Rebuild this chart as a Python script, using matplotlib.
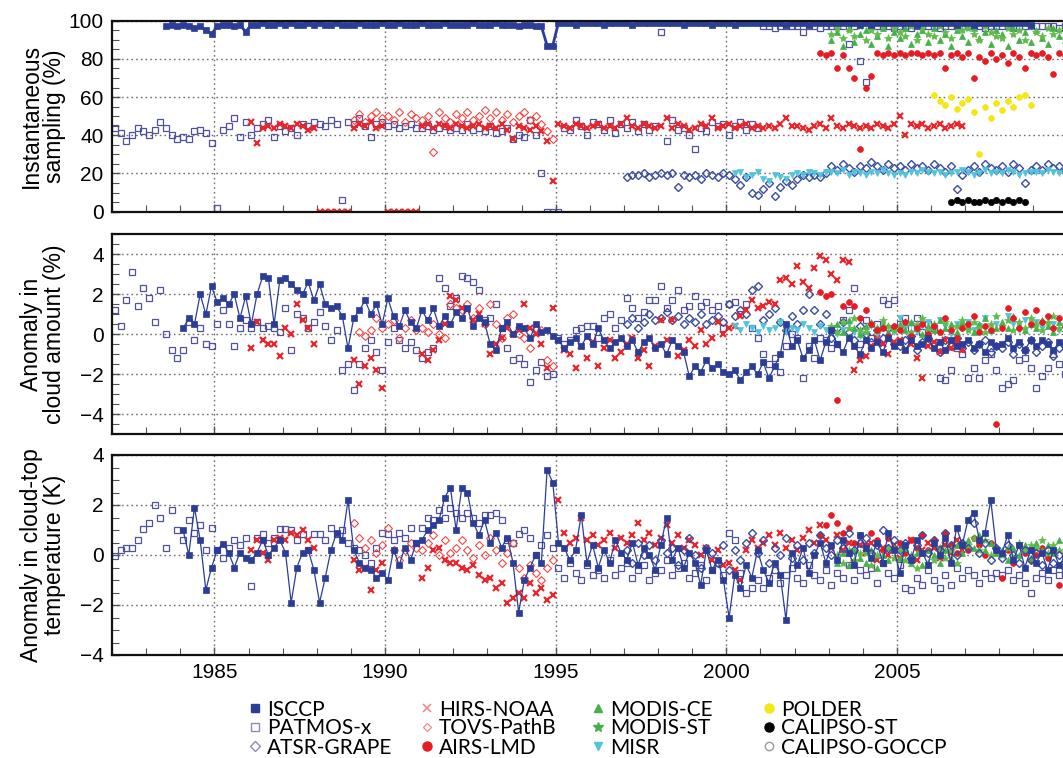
import numpy as np
import matplotlib
matplotlib.use("Agg")
import matplotlib.pyplot as plt
from matplotlib.lines import Line2D
from matplotlib.ticker import MultipleLocator, FixedLocator

plt.rcParams['font.family'] = ['Liberation Sans', 'DejaVu Sans']
nan = np.nan
STEP = 1.0 / 6.0   # bimonthly samples

# ---------------- Panel 1: instantaneous sampling (%) ----------------
isccp_samp_start = 1983.5
isccp_samp = [97, 98, 97,
    98, 97, 96, 97, 95, 93,   97, 98, 98, 97, 98, 94,   98, 98, 99, 98, 98, 99,
    98, 99, 98, 98, 99, 98,   99, 98, 98, 99, 98, 98,   98, 99, 98, 98, 98, 99,
    98, 98, 99, 98, 98, 98,   99, 98, 98, 98, 99, 98,   98, 98, 98, 99, 98, 98,
    98, 99, 98, 98, 98, 97,   98, 98, 97, 97, 87, 87,   99, 99, 99, 98, 99, 99,
    99, 99, 98, 99, 99, 99,   99, 98, 99, 99, 99, 99,   99, 99, 99, 99, 98, 99,
    99, 99, 99, 98, 99, 99,   99, 98, 99, 99, 99, 99,   99, 99, 99, 99, 98, 99,
    99, 99, 98, 99, 99, 99,   99, 99, 99, 99, 99, 98,   99, 98, 99, 99, 99, 99,
    99, 99, 99, 98, 99, 99,   99, 99, 99, 99, 98, 99,   99, 98, 99, 99, 99, 99,
    99, 99, 99, 99, 99, 98]
patmos_samp_start = 1982.0
patmos_samp = [44, 41, 37, 40, 44, 42,   40, 43, 47, 44, 40, 38,   39, 38, 42, 43, 41, 36,
    2, 43, 45, 49, 39, 47,   40, 44, 46, 48, 39, 45,   42, 44, 40, 46, 45, 47,
    46, 45, 48, 46, 6, 47,   46, 49, 45, 39, 46, 47,   45, 46, 44, 45, 46, 44,
    44, 45, 43, 44, 45, 43,   44, 43, 46, 43, 44, 42,   45, 41, 42, 44, 38, 40,
    39, 48, 40, 20, 0, 0,   0, 44, 43, 48, 45, 40,   47, 46, 43, 48, 41, 46,
    44, 47, 42, 46, 43, 45,   94, 37, 48, 43, 44, 40,   33, 44, 42, 47, 45, 46,
    40, 45, 47, 43, 46, 44,   97, 97, 96, 97, 97, 97,   97, 94, 97, 97, 96, 97,
    97, 97, 97, 88, 97, 79,   68, 97, 97, 97, 97, 96,   97, 97, 96, 97, 97, 97,
    97, 96, 97, 97, 97, 97,   97, 97, 97, 96, 97, 97,   97, 97, 96, 97, 97, 97,
    97, 97, 97, 97, 96, 97]
atsr_samp_start = 1997.0
atsr_samp = [18, 19, 19, 20, 18, 19,   20, 19, 20, 13, 19, 18,   19, 17, 20, 19, 18, 20,
    19, 17, 14, 18, 10, 9,   12, 15, 8, 13, 16, 14,   17, 19, 18, 19, 18, 20,
    24, 22, 25, 23, 21, 24,   23, 26, 24, 22, 25, 23,   24, 22, 25, 23, 24, 22,
    25, 23, 21, 24, 12, 19,   22, 24, 21, 25, 23, 22,   24, 21, 25, 23, 15, 22,
    24, 22, 25, 23, 24, 22]
hirs_samp_start = 1986.0
hirs_samp = [47, 36, 44, 45, 44, 46,   45, 44, 46, 45, 43, 44,   0, 0, 0, 0, 0, 0,
    44, 46, 45, 47, 44, 45,   0, 0, 0, 0, 0, 0,   45, 46, 44, 46, 45, 44,
    46, 45, 44, 45, 46, 44,   45, 44, 46, 43, 38, 45,   44, 43, 45, 42, 37, 16,
    46, 45, 44, 46, 45, 44,   45, 46, 44, 45, 44, 46,   49, 45, 44, 46, 45, 44,
    45, 49, 44, 46, 45, 43,   44, 46, 45, 49, 44, 45,   46, 44, 45, 46, 44, 45,
    44, 45, 44, 46, 49, 45,   45, 44, 43, 45, 46, 44,   49, 45, 44, 46, 45, 44,
    45, 44, 46, 45, 44, 46,   50, 40, 46, 45, 46, 44,   45, 46, 44, 45, 46, 45]
tovs_samp_start = 1989.0
tovs_samp = [48, 51, 47, 50, 52, 49,   50, 48, 52, 47, 51, 49,   48, 50, 31, 52, 49, 47,
    51, 49, 52, 48, 50, 53,   49, 52, 48, 51, 47, 50,   52, 48, 50, 46, 42, 38]
airs_samp_start = 2002.0
airs_samp = [nan, nan, nan, nan, 83, 82,   83, 75, 82, 75, 70, 33,   65, 71, 83, 82, 83, 82,
    83, 82, 83, 83, 82, 83,   82, 83, 75, 82, 83, 81,   83, 70, 81, 79, 83, 80,
    82, 78, 83, 81, 75, 83,   82, 83, 81, 72, 83, 82]
modis_ce_samp_start = 2003.0
modis_ce_samp = [90, 94, 87, 96, 89, 93,   95, 88, 92, 96, 87, 94,   91, 96, 88, 93, 95, 89,
    96, 90, 93, 87, 95, 92,   89, 96, 91, 94, 88, 95,   93, 87, 96, 90, 94, 89,
    95, 91, 88, 96, 92, 90]
modis_st_samp_start = 2003.0
modis_st_samp = [93, 96, 91, 95, 92, 97,   90, 95, 93, 97, 91, 96,   94, 92, 97, 90, 96, 93,
    92, 97, 94, 91, 96, 95,   96, 93, 90, 97, 94, 92,   91, 96, 93, 95, 90, 97,
    94, 92, 96, 93, 95, 91]
misr_samp_start = 2000.0
misr_samp = [nan, 20, 21, 18, 19, 21,   17, 16, 19, 18, 17, 19,   20, 19, 21, 20, 19, 21,
    21, 20, 22, 19, 21, 20,   19, 21, 20, 22, 20, 19,   20, 19, 21, 20, 22, 21,
    20, 21, 19, 20, 21, 22,   21, 19, 20, 22, 20, 21,   20, 22, 21, 19, 20, 21,
    21, 20, 22, 21, 20, 22]
polder_samp_start = 2006.0
polder_samp = [61, 58, 56, 60, 54, 57,   59, 52, 30, 55, 49, 57,   53, 58, 55, 60, 61, 56]
calipso_st_samp_start = 2006.0
calipso_st_samp = [nan, nan, nan, 5, 6, 5,   6, 5, 5, 6, 5, 6,   5, 6, 5, 6, 5, nan]

# ---------------- Panel 2: anomaly in cloud amount (%) ----------------
isccp_ca_start = 1984.0
isccp_ca = [0.3, 0.8, 0.5, 2.0, 1.0, 2.4,   1.6, 1.8, 1.5, 2.0, 0.8, 1.9,   0.5, 2.0, 2.9, 2.8, 0.5, 2.7,
    2.8, 2.5, 2.2, 2.0, 2.6, 1.7,   2.5, 1.5, 1.3, 1.4, 0.9, -0.7,   0.8, 1.2, 1.7, 1.0, 1.5, 0.5,
    1.8, 0.9, 0.4, 1.2, 0.6, 0.3,   1.2, 0.7, 1.3, 0.4, 0.9, 0.5,   1.1, 0.8, 1.3, 0.4, 0.8, 0.6,
    -0.5, -0.8, 0.3, 0.6, 0.0, 0.4,   0.3, -0.2, 0.5, 0.1, 0.2, -0.1,   -0.3, -0.7, -0.4, -0.2, -0.6, -0.1,
    -0.5, 0.3, -0.3, -0.7, -0.4, -0.2,   -0.6, -0.3, -0.9, -0.4, -0.2, -0.7,   -0.5, -1.0, -0.3, -0.6, -0.9, -2.1,
    -1.6, -1.9, -1.3, -1.7, -1.5, -1.9,   -2.0, -1.8, -2.3, -1.9, -1.6, -2.0,   -1.4, -2.2, -1.6, -1.0, 0.5, -0.6,
    -0.3, -1.2, -0.8, -0.3, -1.3, -0.4,   0.2, -0.5, -0.9, -0.2, -0.6, -1.0,   -0.3, -0.7, -0.4, -0.9, -0.2, -0.6,
    -0.4, -0.8, -0.3, -0.6, -0.5, -0.2,   -0.7, -0.4, -0.8, -0.3, -0.6, -0.5,   -0.3, -0.7, -0.5, -0.9, -0.4, -0.6,
    -0.5, -0.2, -0.7, -0.4, -0.8, -0.3,   -0.6, -0.3, -0.5, -0.8, -0.4, -0.6]
patmos_ca_start = 1982.0
patmos_ca = [1.2, 0.4, 1.7, 3.1, 1.4, 2.3,   1.8, 0.6, 2.2, 0.0, -0.8, -1.2,   -0.8, 0.6, -0.3, 0.3, -0.5, -0.6,
    0.5, 1.2, 0.5, -0.6, 0.3, 0.7,   0.3, 0.6, 0.3, 0.4, 0.3, 0.1,   1.3, -0.8, 1.0, 0.8, 0.3, 0.6,
    1.1, 0.4, -0.3, 0.2, -1.8, -1.5,   -2.8, -1.5, -0.7, -0.3, -0.9, -1.8,   -0.4, 0.3, -0.3, -0.7, -0.4, -0.8,
    -1.2, -0.9, -0.7, 2.8, 2.3, 1.4,   1.8, 2.9, 2.8, 2.6, 2.2, 0.7,   0.8, 1.5, 0.3, -0.7, -1.3, -1.2,
    -1.5, -2.4, -1.8, -1.4, -2.1, -2.0,   -0.2, -0.5, -0.3, 0.2, 0.3, 0.4,   0.4, -0.2, 0.8, 1.0, 0.3, 0.7,
    1.8, 1.3, 0.8, 1.1, 1.7, 1.7,   2.4, 1.3, 1.7, 2.2, 1.2, 1.4,   1.9, 1.4, 1.6, 1.2, 1.4, 0.3,
    1.5, 1.6, 1.0, 1.5, 0.3, -0.2,   -1.0, -1.5, -1.2, -1.9, -0.6, 0.0,   -0.2, -2.2, -0.6, -1.2, -0.2, -0.3,
    -0.7, -0.5, 0.7, 1.2, 2.3, -0.5,   0.7, -0.2, 0.5, 1.7, 1.5, 1.7,   0.5, 0.8, 0.3, 0.8, 0.1, 0.5,
    0.3, -2.2, -2.3, -1.8, -0.7, -1.0,   -2.2, -1.7, -2.2, -1.3, -1.0, -1.8,   -2.7, -2.5, -2.3, -1.3, -1.2, -1.7,
    -2.7, -2.1, -1.7, -1.0, -1.5, -2.0]
atsr_ca_start = 1997.0
atsr_ca = [0.5, 0.8, 0.3, 0.6, 1.0, 0.7,   0.8, 1.1, 0.7, 0.9, 0.5, 0.8,   0.6, 1.0, 0.5, 0.7, 0.9, 0.6,
    1.5, 0.9, 1.2, 1.0, 2.2, 2.4,   0.7, 1.0, 1.3, 0.6, 0.2, 0.9,   0.5, 1.2, 2.0, 1.2, 0.5, 1.0,
    -0.2, 0.3, 0.6, 0.1, -0.3, 0.4,   0.0, -0.4, 0.2, -0.2, 0.3, -0.5,   -0.6, -0.3, -0.1, -0.8, -0.4, -0.2,
    -0.5, -0.9, -0.3, -0.6, -0.2, -0.7,   -0.4, -0.8, -0.5, -0.3, -0.9, -0.6,   -0.7, -0.4, -1.0, -0.5, -0.8, -0.3,
    -0.9, -0.6, -0.4, -1.1, -0.7, -0.5]
hirs_ca_start = 1986.0
hirs_ca = [-0.7, 0.6, -0.3, -0.5, -0.5, -1.1,   0.3, 0.0, 1.5, 0.7, 0.3, -0.5,   nan, nan, nan, nan, nan, nan,
    -1.3, -2.5, -1.6, -1.2, -1.8, -2.7,   nan, nan, nan, nan, nan, nan,   -1.0, -1.3, -0.8, -0.3, 0.5, 1.9,
    1.7, 1.3, 1.2, 0.7, 1.0, 0.5,   -1.0, -0.5, -0.2, 0.3, 0.0, 0.2,   1.5, 0.3, 0.0, -0.5, -1.7, 1.3,
    -0.3, -0.8, -1.0, -1.7, -0.6, -1.2,   -0.4, -1.6, -0.7, -0.3, -1.2, -0.9,   -0.5, -0.2, -1.2, -0.8, -1.6, -0.6,
    0.7, -0.3, 0.7, -1.1, -0.8, -0.3,   -0.6, 0.2, -0.5, -0.2, 0.6, 0.0,   0.3, 0.4, 0.9, 1.2, 1.7, 1.3,
    1.4, 1.6, 1.5, 2.7, 2.8, 2.5,   3.4, 2.6, 2.3, 3.3, 3.9, 3.7,   3.0, 2.7, 3.7, 3.6, -1.8, -1.3,
    -1.1, -0.6, -0.2, -0.5, -1.0, -0.4,   -0.3, -0.8, -0.5, -1.2, -2.2, -0.6,   -0.4, -0.9, -0.3, -0.7, -0.5, -0.8]
tovs_ca_start = 1989.0
tovs_ca = [nan, 0.1, -0.1, 0.2, 0.8, 0.3,   0.5, 0.7, -0.2, 0.3, 0.7, 0.2,   0.3, 0.1, 0.5, 0.0, -0.2, 1.5,
    1.3, 1.2, 1.5, 0.8, 1.3, 0.5,   1.5, 0.5, -0.2, 0.8, 1.0, 0.0,   -0.2, -0.7, 0.3, 0.2, -1.3, -1.6]
airs_ca_start = 2002.0
airs_ca = [nan, nan, nan, nan, 2.1, 1.9,   2.0, -3.3, 1.4, 1.6, 1.4, 0.8,   1.2, 0.5, 0.2, 0.3, -0.1, 0.4,
    0.2, 0.6, -0.1, 0.3, 0.5, 0.0,   0.4, 0.1, 0.8, 0.2, -0.2, 0.3,   0.5, 0.9, 0.1, 0.4, 0.2, -4.5,
    0.3, 1.3, 0.8, 0.3, 1.1, 0.5,   1.2, 0.6, 0.9, 0.3, 0.8, 0.4]
modis_ce_ca_start = 2003.0
modis_ce_ca = [0.2, 0.5, 0.1, 0.7, 0.3, 0.0,   0.4, 0.6, 0.2, 0.5, 0.1, 0.3,   0.5, 0.2, 0.6, 0.3, 0.0, 0.4,
    0.2, 0.7, 0.3, 0.5, 0.1, 0.6,   0.4, 0.1, 0.5, 0.8, 0.2, 0.3,   0.6, 0.3, 0.9, 0.4, 0.2, 0.5,
    0.3, 0.7, 0.4, 0.1, 0.6, 0.3]
modis_st_ca_start = 2003.0
modis_st_ca = [0.4, 0.1, 0.6, 0.3, 0.8, 0.2,   0.1, 0.5, 0.3, 0.7, 0.4, 0.2,   0.3, 0.6, 0.1, 0.5, 0.8, 0.2,
    0.5, 0.1, 0.6, 0.2, 0.4, 0.7,   0.2, 0.6, 0.3, 0.1, 0.5, 0.9,   0.4, 0.7, 0.2, 0.6, 0.3, 0.8,
    0.5, 0.2, 0.6, 0.9, 0.3, 0.4]
misr_ca_start = 2000.0
misr_ca = [nan, 0.4, 0.2, 0.5, 0.3, 0.1,   0.4, 0.2, 0.3, 0.6, 0.1, 0.3,   0.2, 0.5, 0.3, 0.1, 0.4, 0.2,
    0.3, 0.0, 0.2, 0.5, 0.1, -0.1,   0.2, 0.4, 0.0, 0.3, -0.2, 0.1,   0.8, 0.3, 0.5, 0.1, 0.4, 0.6,
    0.2, 0.7, 0.4, 0.0, 0.5, 0.3,   0.6, 0.2, 0.4, 0.8, 0.1, 0.5,   0.3, 0.9, 0.5, 0.2, 0.7, 0.4,
    0.6, 0.3, 0.8, 0.5, 0.2, 0.4]

# ---------------- Panel 3: anomaly in cloud-top temperature (K) ----------------
isccp_ct_start = 1984.0
isccp_ct = [1.0, 0.0, 1.9, 0.6, -1.4, -0.5,   0.2, 0.45, 0.1, -0.5, 0.1, -0.1,   -0.2, 0.1, 0.6, 0.0, 0.3, 0.6,
    0.1, -1.9, -0.5, 0.1, 0.2, -0.6,   -1.9, -0.9, 0.2, 0.9, 0.6, 2.2,   0.2, -0.3, -0.5, -0.6, -0.9, -0.7,
    -1.0, 0.2, -0.4, 0.3, -0.2, 0.5,   0.6, 1.0, 1.2, 1.4, 2.3, 2.7,   1.0, 2.7, 2.5, 1.3, 0.8, 1.4,
    0.5, 0.9, 0.3, 0.7, -0.3, -2.3,   -1.0, -0.5, 0.0, -0.3, 3.4, 2.9,   0.5, 0.3, -0.2, 0.2, 1.6, -0.3,
    0.4, -0.5, 0.2, -0.3, 0.6, 0.1,   -0.2, 0.5, -0.4, 0.3, 0.0, -0.6,   0.4, 1.5, -0.2, 0.3, -0.5, 0.1,
    -0.3, -1.2, 0.2, -0.6, -0.2, -1.0,   -2.5, -0.8, -1.3, -0.4, -0.9, 0.2,   -0.6, -1.1, -0.3, -0.8, -2.6, 0.1,
    -0.4, 0.3, -0.7, 0.0, 0.5, -0.3,   0.4, -0.2, 0.6, 0.1, -0.4, 0.8,   0.3, -0.1, 0.5, -0.3, 0.9, 0.2,
    -0.7, 0.4, -0.2, 0.6, 0.1, -0.4,   0.5, 0.0, 0.7, -0.3, 1.1, 0.4,   1.4, 1.7, 0.6, 0.9, 2.2, 0.2,
    0.1, 0.8, -0.2, 0.4, -0.5, 0.2,   -0.3, 0.1, -0.6, 0.2, -0.4, -0.1]
patmos_ct_start = 1982.0
patmos_ct = [-0.05, 0.2, 0.3, 0.3, 0.6, 1.05,   1.3, 2.0, 1.5, 0.3, 1.8, 1.0,   0.6, 1.4, 0.9, 1.2, 0.2, 1.1,
    0.2, -0.1, 0.3, 0.6, 0.4, 0.7,   -1.25, 0.7, 0.85, 0.5, 0.7, 1.05,   1.05, 1.0, 0.6, 0.85, 0.2, 0.85,
    0.85, 0.6, 1.1, 0.85, 1.0, 0.5,   0.3, 0.2, 0.0, -0.3, 0.3, 0.9,   0.85, 0.6, 0.9, 0.7, 1.1, 0.5,
    1.1, 1.5, 1.4, 1.8, 1.5, 1.9,   1.7, 1.5, 1.7, 1.5, 1.3, 1.6,   1.6, 1.7, 1.4, 0.6, 0.5, 0.85,
    1.0, 0.7, 0.0, 0.4, 0.8, 0.3,   -0.5, -0.9, -0.3, -0.7, -1.0, -0.4,   -0.8, -0.6, -0.9, -0.2, -0.8, -0.5,
    -0.3, -0.9, -0.6, -0.4, -1.0, -0.7,   -0.6, -0.2, -0.8, -0.5, -0.3, -0.9,   -0.7, -0.4, -1.0, -0.6, -0.3, -0.8,
    0.9, 0.6, -0.7, -1.5, -1.3, -1.0,   -1.3, -0.9, -0.6, -1.1, -0.8, -0.5,   -0.9, -1.1, -0.4, -0.8, -1.0, -0.6,
    -1.2, -0.7, -0.9, -0.4, -1.0, -0.6,   -0.8, -0.5, -1.1, -0.3, -0.7, -0.9,   -0.4, -1.3, -1.4, -0.9, -1.2, -0.6,
    -1.0, -1.3, -0.8, -1.2, -0.5, -0.9,   -0.6, -0.8, -1.1, -0.7, -0.9, -0.7,   -0.8, -0.6, -1.0, -0.8, -1.1, -1.5,
    -0.9, -0.7, -1.0, -0.6, -0.8, -0.7]
atsr_ct_start = 1997.0
atsr_ct = [0.2, -0.3, 0.5, 0.0, 0.4, -0.2,   0.6, 0.1, 0.3, -0.4, 0.2, 0.7,   0.0, -0.5, 0.3, 0.1, -0.3, 0.4,
    -0.6, 0.2, -0.2, 0.5, 0.9, 0.1,   0.6, -0.3, 0.3, 0.0, 0.7, -0.1,   0.4, -0.2, 0.5, 0.1, 0.8, 0.3,
    0.0, 0.6, 0.3, 0.9, 0.2, 0.5,   0.7, 0.1, 0.4, 1.0, 0.3, 0.6,   0.2, 0.5, -0.1, 0.4, 0.8, 0.1,
    0.6, 0.2, 0.9, 0.4, 0.0, 0.5,   0.3, 1.3, 0.1, 0.5, -0.2, 0.3,   -0.1, 0.4, 0.0, -0.3, 0.2, -0.2,
    0.1, -0.4, 0.2, -0.3, 0.0, -0.5]
hirs_ct_start = 1986.0
hirs_ct = [0.2, 0.6, 0.1, -0.2, 0.6, 0.7,   0.6, 0.9, 0.8, 1.0, 0.6, 0.3,   nan, nan, nan, nan, nan, nan,
    -0.2, -0.6, -0.5, -1.4, -0.6, -0.3,   nan, nan, nan, nan, nan, nan,   -0.9, -0.5, 0.2, 0.3, -0.2, -0.3,
    -0.3, -0.5, -0.6, -0.4, -0.8, -1.0,   -0.9, -1.3, -1.1, -1.9, -1.7, -1.5,   -1.7, -1.1, -1.5, -1.3, -1.8, -1.6,
    2.2, 0.9, 0.5, 0.7, 1.5, 0.6,   0.8, 0.4, 0.6, 0.9, 0.3, 0.7,   0.5, 0.8, 1.3, 0.6, 0.9, 0.4,
    0.7, 1.2, 0.5, 0.8, 0.3, 0.6,   0.4, 0.0, 0.3, -0.2, 0.2, -0.4,   -0.3, -0.6, -1.0, 0.2, 0.6, 0.3,
    0.5, 0.8, 0.4, 0.9, 0.3, 0.6,   0.2, 0.7, 1.0, 0.5, 1.2, 0.6,   0.3, 0.8, 0.2, 0.5, -0.3, 0.4,
    0.1, 0.5, -0.2, 0.3, 0.0, 0.4,   -0.1, 0.3, 0.6, -0.2, 0.2, 0.5,   0.3, -0.1, 0.4, 0.1, 0.6, 0.2]
tovs_ct_start = 1989.0
tovs_ct = [1.3, 0.7, 0.3, 0.6, 0.1, 0.4,   1.1, 0.2, -0.2, 0.2, 0.5, 0.3,   0.2, 0.5, 0.8, 0.0, 0.6, 0.1,
    0.3, 0.6, 0.2, -0.1, 0.4, 0.0,   0.7, 0.2, -0.3, 0.1, 0.5, -0.5,   -0.9, -0.4, -0.7, -1.0, -0.5, -0.2]
airs_ct_start = 2002.0
airs_ct = [nan, nan, nan, nan, 0.8, 1.2,   1.6, 1.3, 0.9, 1.1, 0.5, 0.8,   0.4, 0.9, 0.6, 0.2, 0.7, 0.3,
    0.5, 0.1, 0.6, 0.3, 0.8, 0.2,   0.6, 0.3, 0.9, 0.4, 0.1, 0.5,   0.2, 0.7, 0.4, 0.0, 0.5, 0.3,
    -0.9, 0.2, -0.3, 0.4, 0.1, -0.2,   0.0, 0.3, -0.1, 0.2, -1.2, 0.1]
modis_ce_ct_start = 2003.0
modis_ce_ct = [nan, -0.3, 0.1, -0.4, 0.2, -0.1,   -0.3, 0.2, -0.5, 0.0, -0.2, 0.3,   -0.1, 0.3, -0.3, 0.1, -0.4, 0.2,
    0.0, -0.3, 0.2, -0.1, 0.4, 0.1,   0.6, 0.3, 0.8, 0.2, 0.5, 0.1,   0.2, -0.2, 0.3, 0.0, 0.4, -0.1,
    0.5, 0.2, 0.4, 0.1, 0.6, 0.3]
modis_st_ct_start = 2003.0
modis_st_ct = [nan, 0.0, -0.3, 0.2, -0.2, 0.1,   0.1, -0.4, 0.0, -0.3, 0.3, -0.1,   0.2, -0.2, 0.0, -0.5, 0.1, -0.3,
    -0.2, 0.3, -0.1, 0.2, -0.3, 0.5,   0.4, 0.7, 0.2, 0.6, 0.0, 0.3,   0.0, 0.3, -0.1, 0.5, 0.2, 0.4,
    0.3, 0.6, 0.1, 0.4, 0.2, 0.5]

# ---------------- labels ----------------
year_ticks = [1985, 1990, 1995, 2000, 2005]
ylabels = ['Instantaneous\nsampling (%)', 'Anomaly in\ncloud amount (%)',
           'Anomaly in cloud-top\ntemperature (K)']
legend_columns = [['ISCCP', 'PATMOS-x', 'ATSR-GRAPE'],
                  ['HIRS-NOAA', 'TOVS-PathB', 'AIRS-LMD'],
                  ['MODIS-CE', 'MODIS-ST', 'MISR'],
                  ['POLDER', 'CALIPSO-ST', 'CALIPSO-GOCCP']]

# ---------------- styles ----------------
STY = {
    'ISCCP': dict(marker='s', mfc='#2b3d97', mec='#2b3d97', ms=4.2, mew=0.5),
    'PATMOS-x': dict(marker='s', mfc='none', mec='#4f519f', ms=4.6, mew=0.9),
    'ATSR-GRAPE': dict(marker='D', mfc='none', mec='#3a4da6', ms=3.8, mew=1.0),
    'HIRS-NOAA': dict(marker='x', mfc='none', mec='#e8262b', ms=4.2, mew=1.6),
    'TOVS-PathB': dict(marker='D', mfc='none', mec='#ef4a45', ms=3.6, mew=0.8),
    'AIRS-LMD': dict(marker='o', mfc='#e61c24', mec='#e61c24', ms=4.2, mew=0.5),
    'MODIS-CE': dict(marker='^', mfc='#45b04a', mec='#45b04a', ms=4.5, mew=0.5),
    'MODIS-ST': dict(marker='*', mfc='#5fbd47', mec='#5fbd47', ms=6.0, mew=0.5),
    'MISR': dict(marker='v', mfc='#4fc4db', mec='#4fc4db', ms=4.5, mew=0.5),
    'POLDER': dict(marker='o', mfc='#f3e816', mec='#f3e816', ms=4.2, mew=0.5),
    'CALIPSO-ST': dict(marker='o', mfc='#000000', mec='#000000', ms=4.5, mew=0.5),
    'CALIPSO-GOCCP': dict(marker='o', mfc='none', mec='#999999', ms=4.5, mew=0.9),
}
LEG_STY = {
    'ISCCP': dict(marker='s', mfc='#2b3d97', mec='#2b3d97', ms=5.5),
    'PATMOS-x': dict(marker='s', mfc='none', mec='#8a8cbf', ms=6, mew=1.0),
    'ATSR-GRAPE': dict(marker='D', mfc='none', mec='#8a8cbf', ms=5, mew=1.0),
    'HIRS-NOAA': dict(marker='x', mec='#f08a8c', ms=5.5, mew=1.2),
    'TOVS-PathB': dict(marker='D', mfc='none', mec='#f08a8c', ms=4.5, mew=0.9),
    'AIRS-LMD': dict(marker='o', mfc='#e61c24', mec='#e61c24', ms=6.5),
    'MODIS-CE': dict(marker='^', mfc='#45b04a', mec='#45b04a', ms=6),
    'MODIS-ST': dict(marker='*', mfc='#45b04a', mec='#45b04a', ms=7),
    'MISR': dict(marker='v', mfc='#4fc4db', mec='#4fc4db', ms=6),
    'POLDER': dict(marker='o', mfc='#f3e816', mec='#f3e816', ms=6.5),
    'CALIPSO-ST': dict(marker='o', mfc='#000000', mec='#000000', ms=6.5),
    'CALIPSO-GOCCP': dict(marker='o', mfc='none', mec='#999999', ms=6, mew=1.0),
}


def times(start, vals):
    return start + (np.arange(len(vals)) + 0.5) * STEP


W, H = 1063, 758
fig = plt.figure(figsize=(W / 100, H / 100), dpi=100)
left = 112 / W
width = 955.5 / W
ax1 = fig.add_axes([left, 1 - 211.7 / H, width, 191.0 / H])
ax2 = fig.add_axes([left, 1 - 434.3 / H, width, 200.0 / H])
ax3 = fig.add_axes([left, 1 - 655.0 / H, width, 200.0 / H])


def setup(ax, ylim, major, minor, label, show_x):
    ax.set_xlim(1982, 2010)
    ax.set_ylim(*ylim)
    ax.xaxis.set_major_locator(FixedLocator(year_ticks))
    ax.xaxis.set_minor_locator(MultipleLocator(1))
    ax.yaxis.set_major_locator(MultipleLocator(major))
    ax.yaxis.set_minor_locator(MultipleLocator(minor))
    ax.grid(True, which='major', linestyle=(0, (1.2, 2.2)), color='#6f6f6f', lw=1.0)
    ax.set_axisbelow(True)
    ax.tick_params(which='both', direction='in', top=False, right=False, color='#555555')
    ax.tick_params(which='major', length=6, width=1.0, labelsize=15, pad=6)
    ax.tick_params(which='minor', length=5, width=0.8)
    if not show_x:
        ax.tick_params(axis='x', labelbottom=False)
    for s in ax.spines.values():
        s.set_linewidth(1.6)
        s.set_color('#111111')
    ax.set_ylabel(label, fontsize=16.5, linespacing=1.0)
    ax.yaxis.set_label_coords(-0.048, 0.5)


setup(ax1, (0, 100), 20, 5, ylabels[0], False)
setup(ax2, (-5, 5), 2, 0.5, ylabels[1], False)
setup(ax3, (-4, 4), 2, 0.5, ylabels[2], True)


def pts(ax, name, start, vals, line=False, ms=None, lw=0.9):
    st = dict(STY[name])
    if ms is not None:
        st['ms'] = ms
    ls = '-' if line else 'none'
    ax.plot(times(start, vals), vals, linestyle=ls, lw=lw, color=st['mec'], **st)


# Panel 1
pts(ax1, 'PATMOS-x', patmos_samp_start, patmos_samp, ms=4.0)
pts(ax1, 'TOVS-PathB', tovs_samp_start, tovs_samp)
pts(ax1, 'HIRS-NOAA', hirs_samp_start, hirs_samp)
pts(ax1, 'ATSR-GRAPE', atsr_samp_start, atsr_samp)
pts(ax1, 'MISR', misr_samp_start, misr_samp)
pts(ax1, 'MODIS-CE', modis_ce_samp_start, modis_ce_samp)
pts(ax1, 'MODIS-ST', modis_st_samp_start, modis_st_samp)
pts(ax1, 'AIRS-LMD', airs_samp_start, airs_samp)
pts(ax1, 'POLDER', polder_samp_start, polder_samp)
pts(ax1, 'CALIPSO-ST', calipso_st_samp_start, calipso_st_samp)
pts(ax1, 'ISCCP', isccp_samp_start, isccp_samp, line=True, ms=4.6, lw=2.0)

# Panel 2
pts(ax2, 'PATMOS-x', patmos_ca_start, patmos_ca)
pts(ax2, 'ATSR-GRAPE', atsr_ca_start, atsr_ca)
pts(ax2, 'TOVS-PathB', tovs_ca_start, tovs_ca)
pts(ax2, 'HIRS-NOAA', hirs_ca_start, hirs_ca)
pts(ax2, 'MISR', misr_ca_start, misr_ca)
pts(ax2, 'MODIS-CE', modis_ce_ca_start, modis_ce_ca)
pts(ax2, 'MODIS-ST', modis_st_ca_start, modis_st_ca)
pts(ax2, 'AIRS-LMD', airs_ca_start, airs_ca)
pts(ax2, 'ISCCP', isccp_ca_start, isccp_ca, line=True)

# Panel 3
pts(ax3, 'PATMOS-x', patmos_ct_start, patmos_ct)
pts(ax3, 'TOVS-PathB', tovs_ct_start, tovs_ct)
pts(ax3, 'HIRS-NOAA', hirs_ct_start, hirs_ct)
pts(ax3, 'AIRS-LMD', airs_ct_start, airs_ct)
pts(ax3, 'MODIS-CE', modis_ce_ct_start, modis_ce_ct)
pts(ax3, 'MODIS-ST', modis_st_ct_start, modis_st_ct)
pts(ax3, 'ATSR-GRAPE', atsr_ct_start, atsr_ct)
pts(ax3, 'ISCCP', isccp_ct_start, isccp_ct, line=True)

# Legend (four columns of three entries)
col_x = [255, 427, 598, 769]
row_y = [708, 727, 746]
for c, names in enumerate(legend_columns):
    for r, name in enumerate(names):
        x = col_x[c] / W
        y = 1 - row_y[r] / H
        fig.add_artist(Line2D([x], [y], transform=fig.transFigure, linestyle='none',
                              **LEG_STY[name]))
        fig.text((col_x[c] + 12) / W, 1 - (row_y[r] + 7.5) / H, name, ha='left',
                 va='baseline', fontsize=15,
                 family=['Lato', 'Liberation Sans', 'DejaVu Sans'])

fig.savefig('out.png', dpi=100)
